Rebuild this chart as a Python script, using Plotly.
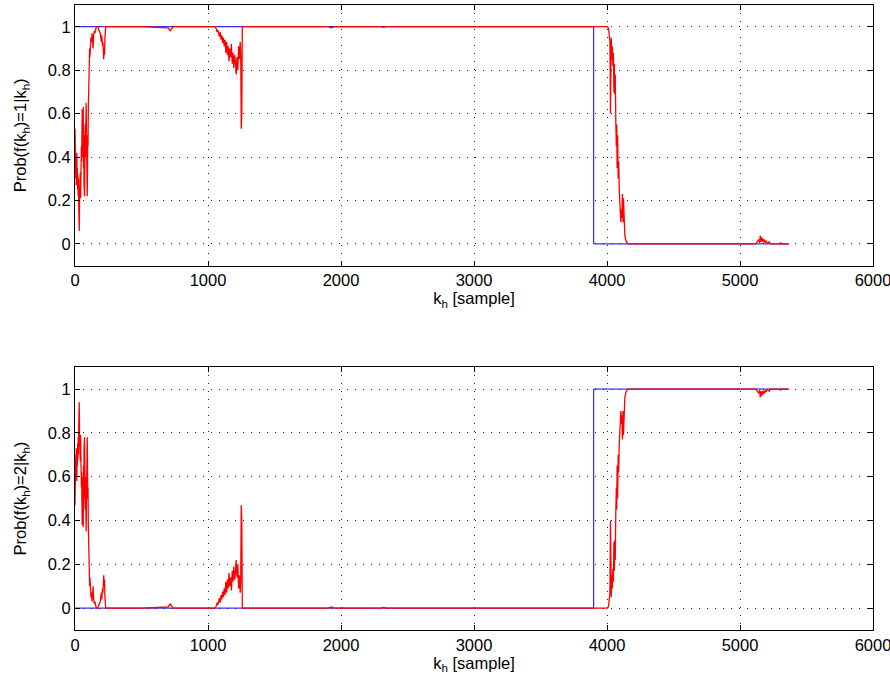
import plotly.graph_objects as go

# ---- data ----
# Reference (blue) class indicator
blue_k = [0, 3900, 3900, 5360]
blue_p1 = [1, 1, 0, 0]
blue_p2 = [0, 0, 1, 1]

# Estimated posterior probability of class 1 (red)
red_k = [
    0, 2, 4, 6, 8, 10, 12, 14, 16, 18, 20, 22, 24, 26, 28, 30, 32, 34, 36, 38,
    40, 42, 44, 46, 48, 50, 52, 54, 56, 58, 60, 62, 64, 66, 68, 70, 72, 74, 76, 78,
    80, 82, 84, 86, 88, 90, 92, 94, 96, 98, 100, 102, 104, 106, 108, 110,
    112, 115, 118, 120, 124, 128, 132, 136, 140, 145, 150, 155, 160, 170, 178, 185,
    190, 194, 198, 201, 204, 207, 210, 213, 216, 219, 222, 225, 228, 231,
    300, 500, 700, 712, 718, 725, 740, 1000,
    1055, 1062, 1068, 1074, 1080, 1086, 1092, 1098, 1104, 1110, 1116, 1122, 1128,
    1134, 1140, 1146, 1152, 1158, 1164, 1170, 1176, 1182, 1188, 1194, 1200, 1206,
    1212, 1218, 1224, 1230, 1236, 1242, 1246, 1250, 1254, 1258,
    1300, 1900, 1930, 1950, 2300, 2320, 2340, 3900, 4005,
    4012, 4018, 4022, 4026, 4028, 4032, 4036, 4040, 4044, 4048, 4052, 4055, 4058,
    4062, 4066, 4070, 4073, 4076, 4080, 4084, 4088, 4092, 4096, 4100, 4104, 4108,
    4112, 4116, 4120, 4124, 4128, 4134, 4140, 4150, 4160,
    4500, 5120, 5130, 5140, 5148, 5152, 5158, 5165, 5172, 5180, 5188, 5195, 5205,
    5220, 5228, 5300, 5305, 5310, 5370,
]
red_p1 = [
    0.53, 0.40, 0.45, 0.30, 0.38, 0.27, 0.33, 0.42, 0.28, 0.35, 0.25, 0.32, 0.22, 0.30, 0.18, 0.12, 0.06, 0.20, 0.28, 0.24,
    0.33, 0.21, 0.36, 0.30, 0.45, 0.38, 0.55, 0.62, 0.44, 0.58, 0.40, 0.63, 0.35, 0.50, 0.27, 0.42, 0.22, 0.30, 0.55, 0.40,
    0.60, 0.48, 0.65, 0.52, 0.40, 0.30, 0.22, 0.35, 0.50, 0.45, 0.62, 0.75, 0.70, 0.82, 0.78, 0.90,
    0.86, 0.92, 0.88, 0.95, 0.93, 0.97, 0.94, 0.90, 0.96, 0.98, 0.97, 0.99, 1.0, 1.0, 0.99, 0.98,
    0.97, 0.95, 0.93, 0.96, 0.94, 0.91, 0.93, 0.88, 0.85, 0.90, 0.87, 0.95, 0.97, 1.0,
    1.0, 1.0, 0.995, 0.985, 0.98, 0.99, 1.0, 1.0,
    1.0, 0.99, 0.975, 0.985, 0.97, 0.955, 0.975, 0.94, 0.96, 0.925, 0.95, 0.91, 0.94,
    0.88, 0.93, 0.87, 0.91, 0.84, 0.90, 0.86, 0.92, 0.83, 0.88, 0.81, 0.87, 0.84,
    0.78, 0.86, 0.80, 0.91, 0.85, 0.93, 0.88, 0.53, 0.60, 1.0,
    1.0, 1.0, 0.995, 1.0, 1.0, 0.997, 1.0, 1.0, 1.0,
    0.99, 0.96, 0.93, 0.60, 0.90, 0.95, 0.85, 0.91, 0.82, 0.88, 0.70, 0.83, 0.69,
    0.78, 0.57, 0.45, 0.55, 0.35, 0.50, 0.30, 0.38, 0.25, 0.20, 0.14, 0.10, 0.16,
    0.12, 0.23, 0.10, 0.21, 0.08, 0.04, 0.02, 0.005, 0.0,
    0.0, 0.0, 0.01, 0.02, 0.005, 0.038, 0.01, 0.03, 0.008, 0.022, 0.006, 0.015, 0.002,
    0.01, 0.0, 0.0, 0.006, 0.0, 0.0,
]
# Class 2 posterior is the complement of class 1
red_p2 = [1 - v for v in red_p1]

x_ticks = [0, 1000, 2000, 3000, 4000, 5000, 6000]
y_ticks = [0, 0.2, 0.4, 0.6, 0.8, 1]
y_tick_text = ["0", "0.2", "0.4", "0.6", "0.8", "1"]

# ---- figure ----
fig = go.Figure()
fig.add_trace(go.Scatter(x=blue_k, y=blue_p1, mode="lines", line=dict(color="blue", width=1),
                         xaxis="x", yaxis="y", showlegend=False))
fig.add_trace(go.Scatter(x=red_k, y=red_p1, mode="lines", line=dict(color="red", width=1.3),
                         xaxis="x", yaxis="y", showlegend=False))
fig.add_trace(go.Scatter(x=blue_k, y=blue_p2, mode="lines", line=dict(color="blue", width=1),
                         xaxis="x2", yaxis="y2", showlegend=False))
fig.add_trace(go.Scatter(x=red_k, y=red_p2, mode="lines", line=dict(color="red", width=1.3),
                         xaxis="x2", yaxis="y2", showlegend=False))

font = dict(family="Liberation Sans, Arial, sans-serif", size=16.5, color="black")

def xax(anchor):
    return dict(domain=[0, 1], anchor=anchor, range=[0, 6000], tickvals=x_ticks,
                ticks="inside", ticklen=5, tickcolor="black", showline=True, linecolor="black",
                linewidth=1, mirror="ticks", showgrid=True, gridcolor="#222222", gridwidth=1,
                griddash="1px,7px", zeroline=False, tickfont=font, automargin=False,
                ticklabeloverflow="allow",
                title=dict(text="k<sub>h</sub> [sample]", font=font, standoff=1))

def yax(domain, anchor, title):
    return dict(domain=domain, anchor=anchor, range=[-0.1, 1.1], tickvals=y_ticks,
                ticktext=y_tick_text, ticks="inside", ticklen=5, tickcolor="black",
                showline=True, linecolor="black", linewidth=1, mirror="ticks", showgrid=True,
                gridcolor="#222222", gridwidth=1, griddash="1px,7px", zeroline=False,
                tickfont=font, automargin=False, title=dict(text=title, font=font, standoff=16))

fig.update_layout(
    width=890, height=681,
    margin=dict(l=75, r=17, t=5, b=51),
    paper_bgcolor="white", plot_bgcolor="white",
    font=font,
    xaxis=xax("y"),
    yaxis=yax([0.583, 1.0], "x", "Prob(f(k<sub>h</sub>)=1|k<sub>h</sub>)"),
    xaxis2=xax("y2"),
    yaxis2=yax([0.0, 0.4206], "x2", "Prob(f(k<sub>h</sub>)=2|k<sub>h</sub>)"),
)

fig.write_html("out.html", config={"displayModeBar": False},
               post_script="document.body.style.margin='0';document.body.style.overflow='hidden';")
